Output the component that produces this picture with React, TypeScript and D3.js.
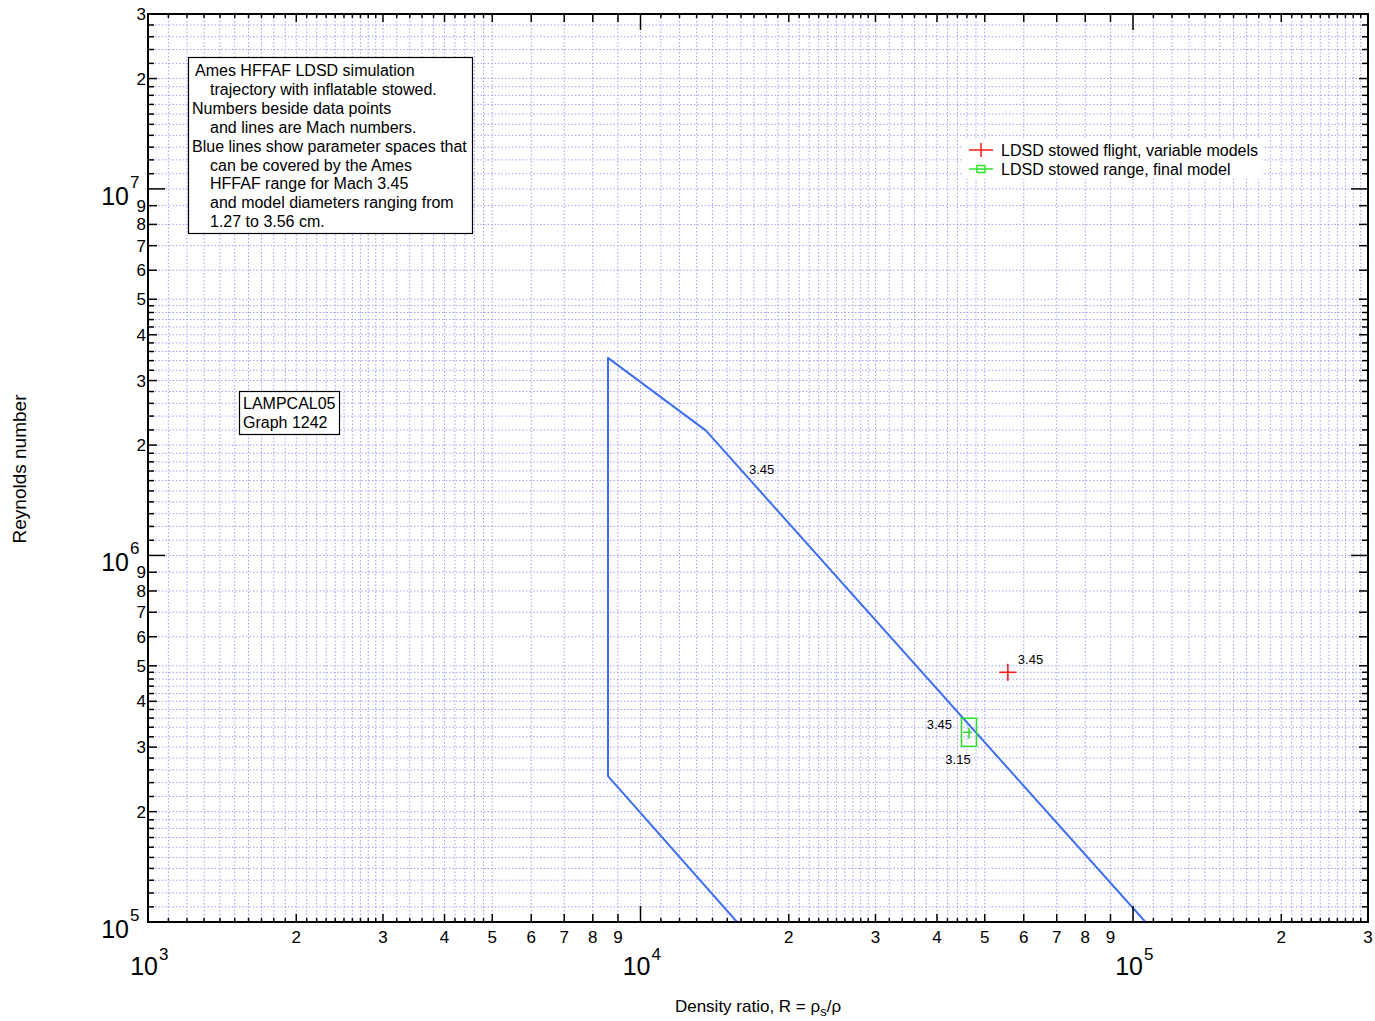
import React from 'react';
import * as d3 from 'd3';

const W = 1375;
const H = 1021;
const plot = { left: 148, right: 1368, top: 14, bottom: 922 };
const FONT = '"Liberation Sans", Arial, Helvetica, sans-serif';

// HFFAF parameter space envelope for Mach 3.45 (one polyline)
const envelopeR = [106000, 13580, 8590, 8590, 15700];
const envelopeRe = [1.0e5, 2.19e6, 3.46e6, 2.5e5, 1.0e5];
const envelopeLabelR = [16610];
const envelopeLabelRe = [1.67e6];
const envelopeMach = ['3.45'];

// LDSD stowed flight, variable models
const flightR = [55700];
const flightRe = [4.8e5];
const flightMach = ['3.45'];

// LDSD stowed range, final model
const rangeR = [46450, 46450];
const rangeRe = [3.43e5, 3.16e5];
const rangeMach = ['3.45', '3.15'];

// axes
const xDomain = [1e3, 3e5];
const yDomain = [1e5, 3e7];
const xDecades = [3, 4, 5];
const yDecades = [5, 6, 7];
const digitLabels = [2, 3, 4, 5, 6, 7, 8, 9];
const xMantissas = [
  1, 1.1, 1.2, 1.3, 1.4, 1.5, 1.6, 1.7, 1.8, 1.9,
  2, 2.1, 2.2, 2.3, 2.4, 2.5, 2.6, 2.7, 2.8, 2.9,
  3, 3.2, 3.4, 3.6, 3.8, 4, 4.2, 4.4, 4.6, 4.8,
  5, 6, 7, 8, 9,
];
const yMantissas = [
  1, 1.1, 1.2, 1.3, 1.4, 1.5, 1.6, 1.7, 1.8, 1.9,
  2, 2.2, 2.4, 2.6, 2.8, 3, 3.2, 3.4, 3.6, 3.8,
  4, 4.2, 4.4, 4.6, 4.8, 5, 6, 7, 8, 9,
];

const noteLines = [
  { text: 'Ames HFFAF LDSD simulation', indent: 3 },
  { text: 'trajectory with inflatable stowed.', indent: 18 },
  { text: 'Numbers beside data points', indent: 0 },
  { text: 'and lines are Mach numbers.', indent: 18 },
  { text: 'Blue lines show parameter spaces that', indent: 0 },
  { text: 'can be covered by the Ames', indent: 18 },
  { text: 'HFFAF range for Mach 3.45', indent: 18 },
  { text: 'and model diameters ranging from', indent: 18 },
  { text: '1.27 to 3.56 cm.', indent: 18 },
];
const idLines = ['LAMPCAL05', 'Graph 1242'];
const legendLabels = ['LDSD stowed flight, variable models', 'LDSD stowed range, final model'];

type Tick = { v: number; kind: 'decade' | 'label' | 'minor'; m: number; e: number };

function buildTicks(decades: number[], mantissas: number[], max: number): Tick[] {
  const out: Tick[] = [];
  decades.forEach((e) => {
    mantissas.forEach((m) => {
      const v = m * Math.pow(10, e);
      if (v > max * 1.0001) return;
      const kind = m === 1 ? 'decade' : digitLabels.includes(m) ? 'label' : 'minor';
      out.push({ v, kind, m, e });
    });
  });
  return out;
}

export default function App() {
  const x = d3.scaleLog().domain(xDomain).range([plot.left, plot.right]);
  const y = d3.scaleLog().domain(yDomain).range([plot.bottom, plot.top]);

  const xTicks = buildTicks(xDecades, xMantissas, xDomain[1]);
  const yTicks = buildTicks(yDecades, yMantissas, yDomain[1]);

  const xLen = { decade: 16, label: 8, minor: 4 };
  const yLen = { decade: 17, label: 9, minor: 6 };

  const line = d3
    .line<number>()
    .x((i) => x(envelopeR[i]))
    .y((i) => y(envelopeRe[i]));
  const envPath = line(d3.range(envelopeR.length)) || '';

  const gridColor = '#a0a0ff';
  const blue = '#3f6ff0';
  const red = '#ff1a1a';
  const green = '#2ee02e';

  const rangeX = x(rangeR[0]);
  const rangeTop = d3.min(rangeRe.map((v) => y(v))) as number;
  const rangeBot = d3.max(rangeRe.map((v) => y(v))) as number;

  return (
    <svg
      width={W}
      height={H}
      style={{ position: 'absolute', left: 0, top: 0, background: '#fff' }}
      fontFamily={FONT}
    >
      <defs>
        <clipPath id="plotClip">
          <rect x={plot.left} y={plot.top} width={plot.right - plot.left} height={plot.bottom - plot.top} />
        </clipPath>
      </defs>
      <rect x={0} y={0} width={W} height={H} fill="#fff" />

      {/* grid */}
      <g stroke={gridColor} strokeWidth={1} strokeDasharray="1.5 2">
        {xTicks.map((t, i) => (
          <line key={'gx' + i} x1={x(t.v)} x2={x(t.v)} y1={plot.top} y2={plot.bottom} />
        ))}
        {yTicks.map((t, i) => (
          <line key={'gy' + i} x1={plot.left} x2={plot.right} y1={y(t.v)} y2={y(t.v)} />
        ))}
      </g>

      {/* note box */}
      <g>
        <rect x={188.5} y={57.5} width={284} height={176} fill="#fff" stroke="#000" strokeWidth={1.2} />
        {noteLines.map((l, i) => (
          <text key={i} x={192 + l.indent} y={76 + i * 18.9} fontSize={16} fill="#000">
            {l.text}
          </text>
        ))}
      </g>
      <g>
        <rect x={239.5} y={391.5} width={100} height={43} fill="#fff" stroke="#000" strokeWidth={1.2} />
        {idLines.map((l, i) => (
          <text key={i} x={243} y={409 + i * 19} fontSize={16} fill="#000">
            {l}
          </text>
        ))}
      </g>

      {/* legend */}
      <g>
        <rect x={963} y={139} width={299} height={40} fill="#fff" />
        <line x1={969} x2={993} y1={150} y2={150} stroke={red} strokeWidth={1.5} />
        <line x1={981} x2={981} y1={143} y2={157} stroke={red} strokeWidth={1.5} />
        <text x={1001} y={156} fontSize={16} fill="#000">{legendLabels[0]}</text>
        <line x1={969} x2={993} y1={169} y2={169} stroke={green} strokeWidth={1.5} />
        <rect x={977} y={165.5} width={8} height={7} fill="none" stroke={green} strokeWidth={1.5} />
        <text x={1001} y={175} fontSize={16} fill="#000">{legendLabels[1]}</text>
      </g>

      {/* data */}
      <g clipPath="url(#plotClip)">
        <path d={envPath} fill="none" stroke={blue} strokeWidth={2} strokeLinejoin="round" />
        {flightR.map((r, i) => (
          <g key={'f' + i} stroke={red} strokeWidth={1.6}>
            <line x1={x(r) - 8.5} x2={x(r) + 8.5} y1={y(flightRe[i])} y2={y(flightRe[i])} />
            <line x1={x(r)} x2={x(r)} y1={y(flightRe[i]) - 8.5} y2={y(flightRe[i]) + 8.5} />
          </g>
        ))}
        <rect
          x={rangeX - 7.5}
          y={rangeTop - 7.5}
          width={15}
          height={rangeBot - rangeTop + 15}
          fill="none"
          stroke={green}
          strokeWidth={1.5}
        />
        <line x1={rangeX} x2={rangeX} y1={rangeTop + 2} y2={rangeBot} stroke={green} strokeWidth={1.5} />
        <line x1={rangeX - 6} x2={rangeX + 3} y1={(rangeTop + rangeBot) / 2} y2={(rangeTop + rangeBot) / 2} stroke={green} strokeWidth={1.5} />
      </g>

      {/* mach labels */}
      <g fontSize={13} fill="#000">
        {envelopeMach.map((m, i) => (
          <text key={'em' + i} x={x(envelopeLabelR[i])} y={y(envelopeLabelRe[i])}>{m}</text>
        ))}
        {flightMach.map((m, i) => (
          <text key={'fm' + i} x={x(flightR[i]) + 10} y={y(flightRe[i]) - 8}>{m}</text>
        ))}
        <text x={rangeX - 17} y={y(rangeRe[0]) + 3} textAnchor="end">{rangeMach[0]}</text>
        <text x={rangeX - 11} y={y(rangeRe[1]) + 25} textAnchor="middle">{rangeMach[1]}</text>
      </g>

      {/* ticks on all four sides */}
      <g stroke="#000" strokeWidth={1.5}>
        {xTicks.map((t, i) => (
          <g key={'tx' + i}>
            <line x1={x(t.v)} x2={x(t.v)} y1={plot.bottom} y2={plot.bottom - xLen[t.kind]} />
            <line x1={x(t.v)} x2={x(t.v)} y1={plot.top} y2={plot.top + xLen[t.kind]} />
          </g>
        ))}
        {yTicks.map((t, i) => (
          <g key={'ty' + i}>
            <line x1={plot.left} x2={plot.left + yLen[t.kind]} y1={y(t.v)} y2={y(t.v)} />
            <line x1={plot.right} x2={plot.right - yLen[t.kind]} y1={y(t.v)} y2={y(t.v)} />
          </g>
        ))}
      </g>
      <rect
        x={plot.left}
        y={plot.top}
        width={plot.right - plot.left}
        height={plot.bottom - plot.top}
        fill="none"
        stroke="#000"
        strokeWidth={2}
      />

      {/* x tick labels */}
      <g fill="#000">
        {xTicks.filter((t) => t.kind === 'label').map((t, i) => (
          <text key={'lx' + i} x={x(t.v)} y={943} fontSize={17} textAnchor="middle">{t.m}</text>
        ))}
        {xTicks.filter((t) => t.kind === 'decade').map((t, i) => (
          <g key={'dx' + i}>
            <text x={x(t.v) + 10} y={975} fontSize={25} textAnchor="end">10</text>
            <text x={x(t.v) + 11} y={960} fontSize={17}>{t.e}</text>
          </g>
        ))}
      </g>

      {/* y tick labels */}
      <g fill="#000">
        {yTicks.filter((t) => t.kind === 'label').map((t, i) => (
          <text key={'ly' + i} x={146} y={y(t.v) + 6} fontSize={17} textAnchor="end">{t.m}</text>
        ))}
        {yTicks.filter((t) => t.kind === 'decade').map((t, i) => (
          <g key={'dy' + i}>
            <text x={129} y={y(t.v) + 16} fontSize={25} textAnchor="end">10</text>
            <text x={130} y={y(t.v) - 1} fontSize={17}>{t.e}</text>
          </g>
        ))}
      </g>

      {/* axis titles */}
      <text
        transform={`translate(26, 469) rotate(-90)`}
        fontSize={19}
        textAnchor="middle"
        fill="#000"
      >
        Reynolds number
      </text>
      <text x={758} y={1012} fontSize={17} textAnchor="middle" fill="#000">
        Density ratio, R = ρ<tspan fontSize={13} dy={4}>s</tspan>
        <tspan dy={-4}>/ρ</tspan>
      </text>
    </svg>
  );
}
